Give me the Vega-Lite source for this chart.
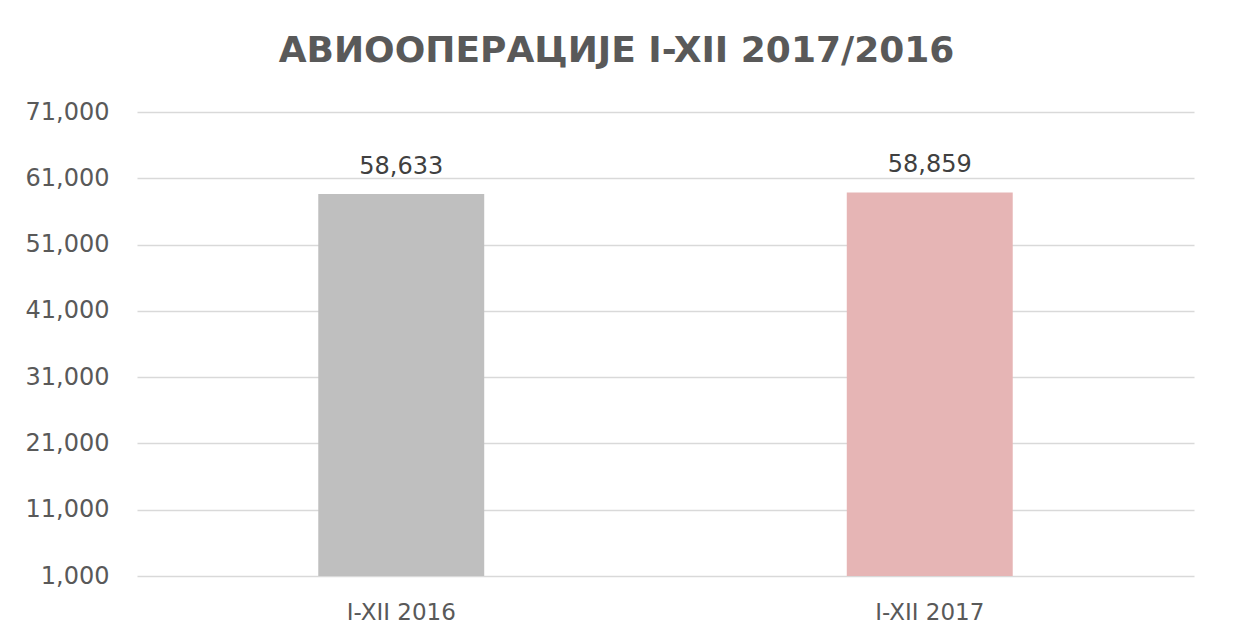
{
  "$schema": "https://vega.github.io/schema/vega-lite/v6.json",
  "width": 1057,
  "height": 464,
  "autosize": {"type": "none"},
  "padding": {"left": 137, "top": 112, "right": 39, "bottom": 68},
  "background": "white",
  "config": {
    "view": {"stroke": null},
    "font": "DejaVu Sans"
  },
  "title": {
    "text": "АВИООПЕРАЦИЈЕ I-XII 2017/2016",
    "fontSize": 36,
    "fontWeight": "bold",
    "color": "#595959",
    "font": "DejaVu Sans",
    "anchor": "middle",
    "dx": -49,
    "offset": 30
  },
  "data": {
    "values": [
      {"period": "I-XII 2016", "value": 58633},
      {"period": "I-XII 2017", "value": 58859}
    ]
  },
  "encoding": {
    "x": {
      "field": "period",
      "type": "nominal",
      "sort": null,
      "scale": {"paddingInner": 0.686, "paddingOuter": 0.343},
      "axis": {
        "title": null,
        "labelAngle": 0,
        "labelFontSize": 23,
        "labelColor": "#595959",
        "labelPadding": 25,
        "ticks": false,
        "domain": false,
        "grid": false
      }
    }
  },
  "layer": [
    {
      "mark": {"type": "bar"},
      "encoding": {
        "y": {
          "field": "value",
          "type": "quantitative",
          "scale": {"domain": [1000, 71000], "zero": false, "nice": false},
          "axis": {
            "title": null,
            "values": [1000, 11000, 21000, 31000, 41000, 51000, 61000, 71000],
            "format": ",d",
            "labelFontSize": 24,
            "labelColor": "#595959",
            "labelPadding": 28,
            "ticks": false,
            "domain": false,
            "gridColor": "#d9d9d9",
            "gridWidth": 1.5
          }
        },
        "y2": {"datum": 1000},
        "color": {
          "field": "period",
          "type": "nominal",
          "scale": {"range": ["#bfbfbf", "#e6b5b5"]},
          "legend": null
        }
      }
    },
    {
      "mark": {"type": "text", "baseline": "alphabetic", "dy": -20, "fontSize": 24, "color": "#404040"},
      "encoding": {
        "y": {"field": "value", "type": "quantitative"},
        "text": {"field": "value", "type": "quantitative", "format": ",d"}
      }
    }
  ]
}
